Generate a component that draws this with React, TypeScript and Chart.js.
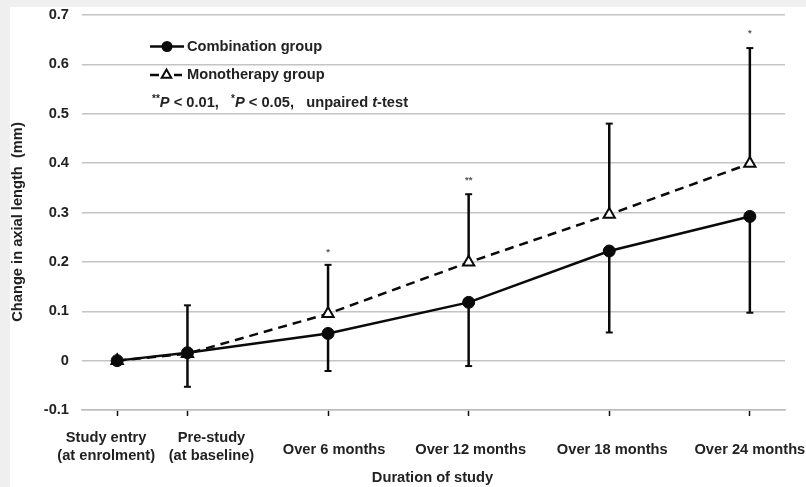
import React, { useEffect, useRef } from "react";
import { Chart, registerables } from "chart.js";

Chart.register(...registerables);

// ---- data ----
const categoryLabels: string[][] = [
  ["Study entry", "(at enrolment)"],
  ["Pre-study", "(at baseline)"],
  ["Over 6 months"],
  ["Over 12 months"],
  ["Over 18 months"],
  ["Over 24 months"],
];
const categoryPositions = [0, 0.5, 1.5, 2.5, 3.5, 4.5];
const combinationValues = [0, 0.016, 0.055, 0.118, 0.222, 0.292];
const combinationLower: (number | null)[] = [null, -0.053, -0.021, -0.011, 0.057, 0.097];
const monotherapyValues = [0, 0.014, 0.095, 0.199, 0.296, 0.399];
const monotherapyUpper: (number | null)[] = [null, 0.112, 0.194, 0.337, 0.48, 0.633];
const significanceMarks = ["", "", "*", "**", "", "*"];
const significanceLevels: (number | null)[] = [null, null, 0.224, 0.37, null, 0.666];
const yTickValues = [-0.1, 0, 0.1, 0.2, 0.3, 0.4, 0.5, 0.6, 0.7];

// label placement tweaks (layout, not data)
const labelShift = [-11, 24, 6, 2, 3, 0];

const FONT = '"Liberation Sans", Arial, sans-serif';
const FS = 14.67;
const TEXT = "#222222";
const INK = "#0a0a0a";

const overlayPlugin = {
  id: "overlay",
  beforeDatasetsDraw(chart: any) {
    const ctx = chart.ctx;
    const xs = chart.scales.x;
    const ys = chart.scales.y;
    ctx.save();
    ctx.strokeStyle = INK;
    const drawBar = (i: number, from: number, to: number | null) => {
      if (to === null) return;
      const px = xs.getPixelForValue(categoryPositions[i]);
      const y0 = ys.getPixelForValue(from);
      const y1 = ys.getPixelForValue(to);
      ctx.lineWidth = 2.5;
      ctx.beginPath();
      ctx.moveTo(px, y0);
      ctx.lineTo(px, y1);
      ctx.stroke();
      ctx.lineWidth = 2;
      ctx.beginPath();
      ctx.moveTo(px - 3.5, y1);
      ctx.lineTo(px + 3.5, y1);
      ctx.stroke();
    };
    for (let i = 0; i < categoryPositions.length; i++) {
      drawBar(i, combinationValues[i], combinationLower[i]);
      drawBar(i, monotherapyValues[i], monotherapyUpper[i]);
    }
    ctx.restore();
  },
  afterDraw(chart: any) {
    const ctx = chart.ctx;
    const xs = chart.scales.x;
    const ys = chart.scales.y;
    const area = chart.chartArea;
    ctx.save();

    // significance marks
    ctx.fillStyle = "#555555";
    ctx.font = `bold 9.5px ${FONT}`;
    ctx.textAlign = "center";
    ctx.textBaseline = "middle";
    for (let i = 0; i < significanceMarks.length; i++) {
      const lvl = significanceLevels[i];
      if (!significanceMarks[i] || lvl === null) continue;
      ctx.fillText(significanceMarks[i], xs.getPixelForValue(categoryPositions[i]), ys.getPixelForValue(lvl) + 2);
    }

    // category labels
    ctx.fillStyle = TEXT;
    ctx.font = `bold ${FS}px ${FONT}`;
    ctx.textAlign = "center";
    ctx.textBaseline = "alphabetic";
    for (let i = 0; i < categoryLabels.length; i++) {
      const cx = xs.getPixelForValue(categoryPositions[i]) + labelShift[i];
      const lines = categoryLabels[i];
      if (lines.length === 1) {
        ctx.fillText(lines[0], cx, area.bottom + 44);
      } else {
        ctx.fillText(lines[0], cx, area.bottom + 32);
        ctx.fillText(lines[1], cx, area.bottom + 50);
      }
    }

    // axis titles
    ctx.textBaseline = "middle";
    ctx.fillText("Duration of study", (area.left + area.right) / 2 - 1, 471);
    ctx.save();
    ctx.translate(8, 215);
    ctx.rotate(-Math.PI / 2);
    ctx.fillText("Change in axial length  (mm)", 0, 0);
    ctx.restore();

    // legend
    ctx.strokeStyle = INK;
    ctx.fillStyle = INK;
    ctx.lineWidth = 2.5;
    const r1 = 39.5;
    ctx.beginPath();
    ctx.moveTo(140, r1);
    ctx.lineTo(174, r1);
    ctx.stroke();
    ctx.beginPath();
    ctx.arc(157, r1, 5.5, 0, Math.PI * 2);
    ctx.fill();

    const r2 = 68;
    ctx.beginPath();
    ctx.moveTo(140, r2);
    ctx.lineTo(149, r2);
    ctx.moveTo(164, r2);
    ctx.lineTo(172, r2);
    ctx.stroke();
    ctx.lineWidth = 2;
    ctx.fillStyle = "#ffffff";
    const tr = 5.5;
    ctx.beginPath();
    ctx.moveTo(156.5, r2 - tr);
    ctx.lineTo(156.5 + tr * 0.866, r2 + tr * 0.5);
    ctx.lineTo(156.5 - tr * 0.866, r2 + tr * 0.5);
    ctx.closePath();
    ctx.fill();
    ctx.stroke();

    ctx.fillStyle = TEXT;
    ctx.textAlign = "left";
    ctx.textBaseline = "middle";
    ctx.font = `bold ${FS}px ${FONT}`;
    ctx.fillText("Combination group", 177, r1);
    ctx.fillText("Monotherapy group", 177, r2);

    const r3 = 96;
    let x = 142;
    const seg = (text: string, font: string, dy = 0) => {
      ctx.font = font;
      ctx.fillText(text, x, r3 + dy);
      x += ctx.measureText(text).width;
    };
    const normal = `bold ${FS}px ${FONT}`;
    const italic = `italic bold ${FS}px ${FONT}`;
    const sup = `bold 10px ${FONT}`;
    seg("**", sup, -4);
    seg("P", italic);
    seg(" < 0.01,   ", normal);
    seg("*", sup, -4);
    seg("P", italic);
    seg(" < 0.05,   unpaired ", normal);
    seg("t", italic);
    seg("-test", normal);

    ctx.restore();
  },
};

export default function App() {
  const canvasRef = useRef<HTMLCanvasElement | null>(null);

  useEffect(() => {
    if (!canvasRef.current) return;
    const combinationPoints = categoryPositions.map((x, i) => ({ x, y: combinationValues[i] }));
    const monotherapyPoints = categoryPositions.map((x, i) => ({ x, y: monotherapyValues[i] }));
    const chart = new Chart(canvasRef.current, {
      type: "line",
      data: {
        datasets: [
          {
            label: "Combination group",
            data: combinationPoints,
            borderColor: INK,
            backgroundColor: INK,
            borderWidth: 2.5,
            pointStyle: "circle",
            pointRadius: 6,
            pointHoverRadius: 6,
            pointBackgroundColor: INK,
            pointBorderColor: INK,
            pointBorderWidth: 1,
            tension: 0,
          },
          {
            label: "Monotherapy group",
            data: monotherapyPoints,
            borderColor: INK,
            backgroundColor: "#ffffff",
            borderWidth: 2.5,
            borderDash: [9, 6],
            pointStyle: "triangle",
            pointRadius: 6.5,
            pointHoverRadius: 6.5,
            pointBackgroundColor: "#ffffff",
            pointBorderColor: INK,
            pointBorderWidth: 2,
            tension: 0,
          },
        ],
      },
      options: {
        responsive: false,
        animation: false,
        devicePixelRatio: 1,
        layout: { autoPadding: false, padding: { top: 8, right: 21, bottom: 0, left: 0 } },
        plugins: {
          legend: { display: false },
          tooltip: { enabled: false },
          title: { display: false },
        },
        scales: {
          x: {
            type: "linear",
            min: -0.25,
            max: 4.75,
            afterBuildTicks: (scale: any) => {
              scale.ticks = categoryPositions.map((v) => ({ value: v }));
            },
            afterFit: (scale: any) => {
              scale.height = 77;
              scale.paddingLeft = 0;
              scale.paddingRight = 0;
            },
            ticks: { display: false, autoSkip: false, maxRotation: 0, minRotation: 0 },
            grid: {
              display: true,
              drawOnChartArea: false,
              drawTicks: true,
              tickLength: 6,
              tickColor: "#111111",
              tickWidth: 1.5,
            },
            border: { display: true, color: "#bdbdbd", width: 1.5 },
          },
          y: {
            type: "linear",
            min: -0.1,
            max: 0.7,
            afterBuildTicks: (scale: any) => {
              scale.ticks = yTickValues.map((v) => ({ value: v }));
            },
            afterFit: (scale: any) => {
              scale.width = 72;
              scale.paddingTop = 0;
              scale.paddingBottom = 0;
            },
            ticks: {
              padding: 13,
              color: TEXT,
              font: { family: FONT, size: FS, weight: "bold" },
              callback: (value: any) => {
                const n = Math.round(Number(value) * 10) / 10;
                return n === 0 ? "0" : n.toFixed(1);
              },
            },
            grid: {
              color: "#c4c4c4",
              lineWidth: 1.5,
              drawTicks: false,
            },
            border: { display: false },
          },
        },
      },
      plugins: [overlayPlugin],
    } as any);
    return () => chart.destroy();
  }, []);

  return (
    <div style={{ position: "fixed", left: 0, top: 0, width: 806, height: 487, background: "#efefef" }}>
      <div style={{ position: "absolute", left: 10, top: 7, width: 796, height: 480, background: "#ffffff" }}>
        <canvas ref={canvasRef} width={796} height={480} style={{ display: "block" }} />
      </div>
    </div>
  );
}
